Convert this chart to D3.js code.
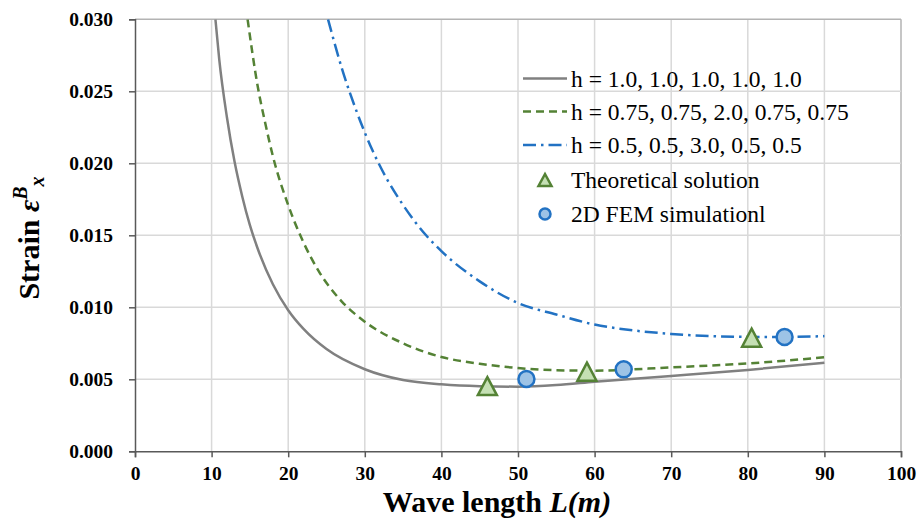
<!DOCTYPE html>
<html>
<head>
<meta charset="utf-8">
<script src="https://d3js.org/d3.v7.min.js"></script>
<style>
  body { margin: 0; background: white; }
  svg { display: block; font-family: 'Liberation Serif', 'Times New Roman', serif; }
</style>
</head>
<body>
<div id="chart"></div>
<script>
// curve data (x = wave length, y = strain)
const grayX = [10.5, 11, 12, 13, 14, 15, 16, 18, 20, 22, 25, 30, 35, 40, 45, 50, 55, 60, 70, 80, 90];
const grayY = [0.0300, 0.0272, 0.0232, 0.0201, 0.0177, 0.0157, 0.0141, 0.0116, 0.0098, 0.0085, 0.0071, 0.0057, 0.00495, 0.00465, 0.00452, 0.00449, 0.0046, 0.00483, 0.00523, 0.00565, 0.00615];

const greenX = [14.7, 16, 17, 18, 20, 22, 24, 27, 30, 35, 40, 45, 50, 55, 60, 70, 80, 90];
const greenY = [0.0300, 0.0254, 0.0228, 0.0205, 0.0171, 0.0145, 0.0125, 0.0104, 0.0090, 0.0075, 0.00655, 0.00608, 0.00578, 0.00563, 0.0056, 0.00583, 0.0061, 0.00653];

const blueX = [25.2, 27, 29, 31, 33, 35, 38, 40, 45, 50, 55, 60, 65, 70, 75, 80, 85, 90];
const blueY = [0.0300, 0.0266, 0.0235, 0.0209, 0.0188, 0.0171, 0.0150, 0.0139, 0.0118, 0.0103, 0.0095, 0.0088, 0.0084, 0.00815, 0.0080, 0.00795, 0.00794, 0.0080];

const theoryX = [46, 59, 80.5];
const theoryY = [0.00453, 0.00553, 0.00789];
const femX = [51.1, 63.8, 84.8];
const femY = [0.00502, 0.00569, 0.00794];

const xTicks = [0, 10, 20, 30, 40, 50, 60, 70, 80, 90, 100];
const yTicks = [0, 0.005, 0.010, 0.015, 0.020, 0.025, 0.030];

const legendLabels = [
  "h = 1.0, 1.0, 1.0, 1.0, 1.0",
  "h = 0.75, 0.75, 2.0, 0.75, 0.75",
  "h = 0.5, 0.5, 3.0, 0.5, 0.5",
  "Theoretical solution",
  "2D FEM simulationl"
];

const w = 919, h = 522;
const padL = 135, padR = 901, padT = 19.3, padB = 451.3;

const x = d3.scaleLinear().domain([0, 100]).range([padL, padR]);
const y = d3.scaleLinear().domain([0, 0.030]).range([padB, padT]);

const svg = d3.select("#chart").append("svg")
  .attr("width", w).attr("height", h);

// grid
svg.append("g").selectAll("line").data(xTicks.slice(1)).enter().append("line")
  .attr("x1", d => x(d)).attr("x2", d => x(d))
  .attr("y1", padT).attr("y2", padB)
  .attr("stroke", d => d === 100 ? "#b3b3b3" : "#d9d9d9").attr("stroke-width", 1.5);
svg.append("g").selectAll("line").data(yTicks.slice(1)).enter().append("line")
  .attr("x1", padL).attr("x2", padR)
  .attr("y1", d => y(d)).attr("y2", d => y(d))
  .attr("stroke", d => d === 0.030 ? "#b3b3b3" : "#d9d9d9").attr("stroke-width", 1.5);

// axes
const yAxis = svg.append("g")
  .attr("transform", `translate(${padL},0)`)
  .call(d3.axisLeft(y).tickValues(yTicks).tickFormat(d3.format(".3f")).tickSize(6).tickPadding(16));
const xAxis = svg.append("g")
  .attr("transform", `translate(0,${padB})`)
  .call(d3.axisBottom(x).tickValues(xTicks).tickSize(6).tickPadding(9));
[xAxis, yAxis].forEach(a => {
  a.select(".domain").attr("stroke", "#595959").attr("stroke-width", 1.5);
  a.selectAll(".tick line").attr("stroke", "#595959").attr("stroke-width", 1.5);
  a.selectAll("text").attr("fill", "#000").attr("font-family", "Liberation Serif")
    .attr("font-weight", "bold").attr("font-size", 19.5);
});

// curves
svg.append("clipPath").attr("id", "clip").append("rect")
  .attr("x", padL).attr("y", padT).attr("width", padR - padL).attr("height", padB - padT);

const line = d3.line().x(d => x(d[0])).y(d => y(d[1])).curve(d3.curveMonotoneX);
const series = [
  {xs: grayX, ys: grayY, color: "#808080", dash: null},
  {xs: greenX, ys: greenY, color: "#548235", dash: "8,5"},
  {xs: blueX, ys: blueY, color: "#2272c3", dash: "13,5,2.5,5"}
];
const curves = svg.append("g").attr("clip-path", "url(#clip)");
series.forEach(s => {
  curves.append("path")
    .datum(s.xs.map((v, i) => [v, s.ys[i]]))
    .attr("d", line)
    .attr("fill", "none")
    .attr("stroke", s.color)
    .attr("stroke-width", 2.5)
    .attr("stroke-dasharray", s.dash);
});

// markers
const tri = "M0,-9L9.5,9L-9.5,9Z";
svg.append("g").selectAll("path").data(theoryX.map((v, i) => [v, theoryY[i]])).enter().append("path")
  .attr("d", tri)
  .attr("transform", d => `translate(${x(d[0])},${y(d[1])})`)
  .attr("fill", "#c5e0b4").attr("stroke", "#548235").attr("stroke-width", 2.5);
svg.append("g").selectAll("circle").data(femX.map((v, i) => [v, femY[i]])).enter().append("circle")
  .attr("cx", d => x(d[0])).attr("cy", d => y(d[1])).attr("r", 8)
  .attr("fill", "#9dc3e6").attr("stroke", "#2272c3").attr("stroke-width", 2.5);

// legend
const lg = svg.append("g");
const rowY = [78.5, 111.5, 145, 180, 214];
series.forEach((s, i) => {
  lg.append("line").attr("x1", 523).attr("x2", 567).attr("y1", rowY[i]).attr("y2", rowY[i])
    .attr("stroke", s.color).attr("stroke-width", 2.5).attr("stroke-dasharray", s.dash);
});
lg.append("path").attr("d", "M0,-6L6.5,6L-6.5,6Z").attr("transform", `translate(545,${rowY[3]})`)
  .attr("fill", "#c5e0b4").attr("stroke", "#548235").attr("stroke-width", 2.5);
lg.append("circle").attr("cx", 545).attr("cy", rowY[4]).attr("r", 5.5)
  .attr("fill", "#9dc3e6").attr("stroke", "#2272c3").attr("stroke-width", 2.5);
legendLabels.forEach((t, i) => {
  lg.append("text").attr("x", 571).attr("y", rowY[i]).attr("dy", "0.35em")
    .attr("font-size", 23.5).attr("fill", "#000").text(t);
});

// axis titles
const xt = svg.append("text").attr("x", 497).attr("y", 512)
  .attr("text-anchor", "middle").attr("font-size", 30).attr("font-weight", "bold");
xt.append("tspan").text("Wave length ");
xt.append("tspan").attr("font-style", "italic").text("L(m)");

const yt = svg.append("text").attr("transform", "translate(39,238) rotate(-90)")
  .attr("text-anchor", "middle").attr("font-size", 30).attr("font-weight", "bold");
yt.append("tspan").text("Strain ");
yt.append("tspan").attr("font-style", "italic").text("ε");
yt.append("tspan").attr("font-style", "italic").attr("font-size", 20).attr("dy", -12).text("B");
yt.append("tspan").attr("font-style", "italic").attr("font-size", 20).attr("dy", 17).text("x");
</script>
</body>
</html>
